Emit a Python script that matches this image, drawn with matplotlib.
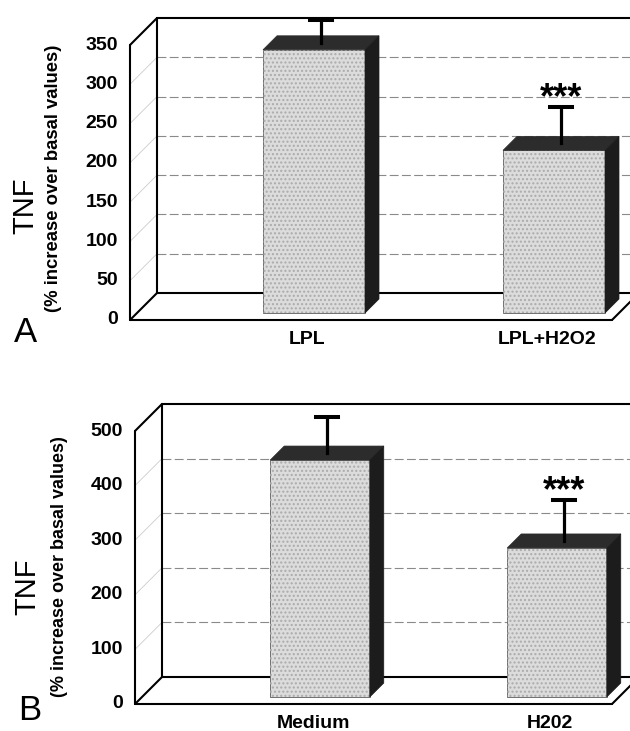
import matplotlib.pyplot as plt
from matplotlib.patches import Polygon, Rectangle

plt.rcParams['font.family'] = ['Liberation Sans', 'DejaVu Sans']

# panel A
a_groups = ['LPL', 'LPL+H2O2']
a_means = [335, 207]
a_errs = [29, 46]
a_ticks = [0, 50, 100, 150, 200, 250, 300, 350]

# panel B
b_groups = ['Medium', 'H202']
b_means = [434, 273]
b_errs = [66, 75]
b_ticks = [0, 100, 200, 300, 400, 500]

W, H = 630, 731
fig = plt.figure(figsize=(W / 100, H / 100), dpi=100)

FRONT, BACK, DEPTH, MID = -7, 20, 14, 7


def make_ax(cx, step, y0, scale, top, bottom):
    # axes over the full width; bar plane: x_px = cx + step*x, y_px = y0 - scale*v
    ax = fig.add_axes([0, 1 - bottom / H, 1, (bottom - top) / H])
    ax.set_xlim(-cx / step, (W - cx) / step)
    ax.set_ylim((y0 - bottom) / scale, (y0 - top) / scale)
    ax.axis('off')
    ax.kx, ax.ky = 1 / step, 1 / scale
    return ax


def P(ax, x, v, d):
    # shift a point back into the depth of the box by d pixels
    return (x + d * ax.kx, v + d * ax.ky)


def seg(ax, p, q, **kw):
    ax.plot([p[0], q[0]], [p[1], q[1]], clip_on=False, **kw)


def draw_panel(ax, groups, means, errs, ticks, x_left, x_right, width):
    top = ticks[-1]
    box = dict(color='black', lw=1.5, solid_capstyle='round', zorder=2)

    # back wall grid + faint lines on the side wall
    for t in ticks[1:-1]:
        seg(ax, P(ax, x_left, t, BACK), P(ax, x_right, t, BACK),
            color='#8a8a8a', lw=0.8, dashes=(8, 3), zorder=1)
        seg(ax, P(ax, x_left, t, FRONT), P(ax, x_left, t, BACK),
            color='#cccccc', lw=0.6, zorder=1)

    # box outline
    seg(ax, P(ax, x_left, 0, BACK), P(ax, x_left, top, BACK), **box)
    seg(ax, P(ax, x_left, top, BACK), P(ax, x_right, top, BACK), **box)
    seg(ax, P(ax, x_left, 0, BACK), P(ax, x_right, 0, BACK), **box)
    seg(ax, P(ax, x_right, 0, BACK), P(ax, x_right, top, BACK), **box)
    seg(ax, P(ax, x_left, 0, FRONT), P(ax, x_left, top, FRONT), **box)
    seg(ax, P(ax, x_left, top, FRONT), P(ax, x_left, top, BACK), **box)
    seg(ax, P(ax, x_left, 0, FRONT), P(ax, x_left, 0, BACK), **box)
    seg(ax, P(ax, x_left, 0, FRONT), P(ax, x_right, 0, FRONT), **box)
    seg(ax, P(ax, x_right, 0, FRONT), P(ax, x_right, 0, BACK), **box)

    for i, (g, m, e) in enumerate(zip(groups, means, errs)):
        x0, x1 = i - width / 2, i + width / 2
        ax.add_patch(Rectangle((x0, 0), width, m, facecolor='#dcdcdc',
                               edgecolor='#707070', lw=0.7, zorder=3))
        ax.add_patch(Rectangle((x0, 0), width, m, fill=False, hatch='....',
                               edgecolor='#ababab', lw=0, zorder=3))
        ax.add_patch(Polygon([(x0, m), (x1, m), P(ax, x1, m, DEPTH), P(ax, x0, m, DEPTH)],
                             closed=True, facecolor='#2c2c2c', edgecolor='#2c2c2c',
                             lw=0.5, zorder=4))
        ax.add_patch(Polygon([(x1, 0), (x1, m), P(ax, x1, m, DEPTH), P(ax, x1, 0, DEPTH)],
                             closed=True, facecolor='#1c1c1c', edgecolor='#1c1c1c',
                             lw=0.5, zorder=4))
        # error bar
        base = P(ax, i, m, MID)
        tip = P(ax, i, m + e, MID)
        seg(ax, base, tip, color='black', lw=2.3, zorder=5)
        seg(ax, (tip[0] - 11 * ax.kx, tip[1]), (tip[0] + 11 * ax.kx, tip[1]),
            color='black', lw=2.9, zorder=5)
        if i == 1:
            ax.text(tip[0], tip[1] - 1 * ax.ky, '***', ha='center', va='baseline',
                    fontsize=26, fontweight='bold')
        # category label
        lx, ly = P(ax, i, 0, FRONT)
        ax.text(lx, ly - 11 * ax.ky, g, ha='center', va='top',
                fontsize=14, fontweight='bold')

    for t in ticks:
        tx, ty = P(ax, x_left, t, FRONT)
        ax.text(tx - 12 * ax.kx, ty, str(t), ha='right', va='center',
                fontsize=14, fontweight='bold')


ax_a = make_ax(314, 240, 313, 0.7857, 0, 365)
draw_panel(ax_a, a_groups, a_means, a_errs, a_ticks, (137 - 314) / 240, (619 - 314) / 240, 0.425)

ax_b = make_ax(320, 237, 697, 0.546, 365, 731)
draw_panel(ax_b, b_groups, b_means, b_errs, b_ticks, (142 - 320) / 237, (619 - 320) / 237, 0.42)


def ftext(x, y, s, **kw):
    fig.text(x / W, 1 - y / H, s, ha='center', va='center', **kw)


ftext(25, 206, 'TNF', rotation=90, fontsize=21)
ftext(54, 178, '(% increase over basal values)', rotation=90, fontsize=13.3, fontweight='bold')
ftext(25, 333, 'A', fontsize=25)

ftext(27, 587, 'TNF', rotation=90, fontsize=21)
ftext(60, 567, '(% increase over basal values)', rotation=90, fontsize=13, fontweight='bold')
ftext(30, 711, 'B', fontsize=25)

fig.savefig('out.png', dpi=100)
